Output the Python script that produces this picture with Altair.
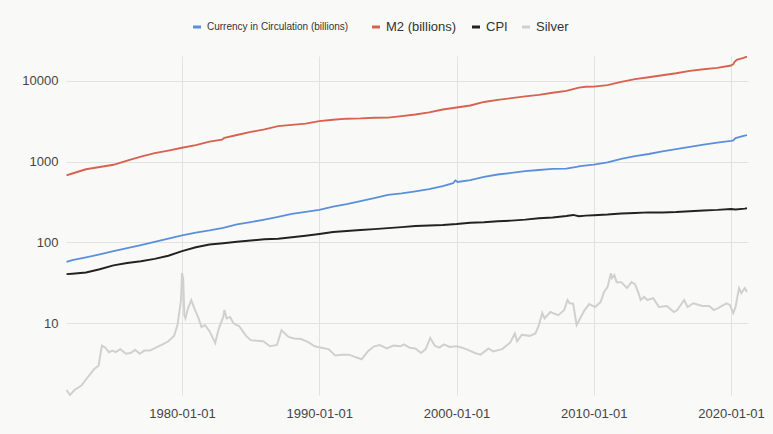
import altair as alt
import pandas as pd

# ---------------- data ----------------
cur_dates = ["1971-08", "1972-01", "1973-01", "1974-01", "1975-01", "1976-01", "1977-01", "1978-01",
             "1979-01", "1980-01", "1981-01", "1982-01", "1983-01", "1984-01", "1985-01", "1986-01",
             "1987-01", "1988-01", "1989-01", "1990-01", "1991-01", "1992-01", "1993-01", "1994-01",
             "1995-01", "1996-01", "1997-01", "1998-01", "1999-01", "1999-10", "1999-12", "2000-02",
             "2001-01", "2002-01", "2003-01", "2004-01", "2005-01", "2006-01", "2007-01", "2008-01",
             "2008-10", "2009-01", "2010-01", "2011-01", "2012-01", "2013-01", "2014-01", "2015-01",
             "2016-01", "2017-01", "2018-01", "2019-01", "2020-01", "2020-03", "2020-05", "2020-12",
             "2021-03"]
cur_values = [57.5, 60.5, 65.3, 71.0, 77.9, 85.0, 92.9, 101.8,
              111.9, 122.0, 132.3, 140.8, 151.8, 166.9, 178.6, 192.1,
              207.3, 225.3, 238.2, 253.4, 277.6, 297.7, 323.5, 354.4,
              387.9, 405.0, 428.9, 457.6, 496.8, 540, 585, 560,
              590, 649, 692, 724, 760, 787, 812, 817,
              860, 881, 917, 977, 1078, 1171, 1241, 1337,
              1424, 1517, 1624, 1716, 1797, 1830, 1950, 2075,
              2130]

m2_dates = ["1971-08", "1972-01", "1973-01", "1974-01", "1975-01", "1976-01", "1977-01", "1978-01",
            "1979-01", "1980-01", "1981-01", "1982-01", "1982-12", "1983-02", "1984-01", "1985-01",
            "1986-01", "1987-01", "1988-01", "1989-01", "1990-01", "1991-01", "1992-01", "1993-01",
            "1994-01", "1995-01", "1996-01", "1997-01", "1998-01", "1999-01", "2000-01", "2001-01",
            "2002-01", "2003-01", "2004-01", "2005-01", "2006-01", "2007-01", "2008-01", "2008-12",
            "2009-06", "2010-01", "2011-01", "2012-01", "2013-01", "2014-01", "2015-01", "2016-01",
            "2017-01", "2018-01", "2019-01", "2020-01", "2020-03", "2020-04", "2020-06", "2020-12",
            "2021-03"]
m2_values = [676, 712, 804, 856, 913, 1030, 1152, 1270,
             1366, 1481, 1601, 1766, 1870, 1966, 2130, 2324,
             2499, 2741, 2840, 2950, 3166, 3286, 3390, 3415,
             3480, 3493, 3640, 3824, 4057, 4400, 4665, 4940,
             5460, 5800, 6080, 6410, 6680, 7090, 7490, 8200,
             8420, 8460, 8810, 9660, 10440, 11030, 11690, 12360,
             13250, 13850, 14410, 15410, 16000, 17000, 18100, 19100,
             19900]

cpi_dates = ["1971-08", "1972-01", "1973-01", "1974-01", "1975-01", "1976-01", "1977-01", "1978-01",
             "1979-01", "1980-01", "1981-01", "1982-01", "1983-01", "1984-01", "1985-01", "1986-01",
             "1987-01", "1988-01", "1989-01", "1990-01", "1991-01", "1992-01", "1993-01", "1994-01",
             "1995-01", "1996-01", "1997-01", "1998-01", "1999-01", "2000-01", "2001-01", "2002-01",
             "2003-01", "2004-01", "2005-01", "2006-01", "2007-01", "2008-01", "2008-07", "2008-12",
             "2009-06", "2010-01", "2011-01", "2012-01", "2013-01", "2014-01", "2015-01", "2016-01",
             "2017-01", "2018-01", "2019-01", "2020-01", "2020-05", "2021-01", "2021-03"]
cpi_values = [40.6, 41.1, 42.6, 46.6, 52.1, 55.8, 58.7, 62.7,
              68.5, 78.0, 87.2, 94.4, 97.8, 101.9, 105.7, 109.6,
              111.4, 116.0, 121.2, 127.5, 134.7, 138.3, 142.8, 146.3,
              150.5, 154.7, 159.4, 161.8, 164.7, 169.3, 175.6, 177.7,
              182.6, 186.3, 191.6, 199.3, 203.4, 212.2, 219.0, 211.4,
              214.8, 217.5, 221.2, 227.8, 231.7, 235.3, 234.7, 237.7,
              243.6, 248.9, 252.6, 258.7, 255.9, 262.2, 264.9]

silver_dates = ["1971-08", "1971-11", "1972-03", "1972-09", "1973-03", "1973-08", "1973-12", "1974-02",
                "1974-03", "1974-06", "1974-09", "1974-12", "1975-03", "1975-07", "1975-12", "1976-04",
                "1976-08", "1976-12", "1977-04", "1977-09", "1978-02", "1978-08", "1979-01", "1979-06",
                "1979-09", "1979-12", "1980-01", "1980-02", "1980-03", "1980-04", "1980-06", "1980-09",
                "1980-12", "1981-03", "1981-06", "1981-09", "1982-01", "1982-06", "1982-09", "1983-01",
                "1983-02", "1983-04", "1983-07", "1983-10", "1984-03", "1984-06", "1984-09", "1985-01",
                "1985-06", "1985-12", "1986-06", "1986-12", "1987-04", "1987-07", "1987-10", "1988-03",
                "1988-09", "1989-03", "1989-09", "1990-03", "1990-09", "1991-03", "1991-09", "1992-03",
                "1992-09", "1993-02", "1993-08", "1994-01", "1994-06", "1994-12", "1995-06", "1995-12",
                "1996-03", "1996-08", "1997-01", "1997-06", "1997-10", "1998-02", "1998-06", "1998-10",
                "1999-02", "1999-07", "2000-01", "2000-06", "2000-11", "2001-05", "2001-10", "2002-05",
                "2002-09", "2003-05", "2003-12", "2004-04", "2004-06", "2004-10", "2005-05", "2005-10",
                "2006-01", "2006-04", "2006-06", "2006-11", "2007-06", "2007-11", "2008-02", "2008-04",
                "2008-07", "2008-10", "2009-01", "2009-05", "2009-09", "2010-02", "2010-07", "2010-10",
                "2011-01", "2011-04", "2011-05", "2011-07", "2011-09", "2012-01", "2012-06", "2012-10",
                "2013-01", "2013-04", "2013-06", "2013-09", "2013-12", "2014-05", "2014-10", "2015-05",
                "2015-11", "2016-02", "2016-08", "2016-11", "2017-04", "2017-12", "2018-06", "2018-10",
                "2019-02", "2019-09", "2019-12", "2020-03", "2020-05", "2020-08", "2020-10", "2021-01",
                "2021-03"]
silver_values = [1.5, 1.3, 1.5, 1.7, 2.2, 2.7, 3.0, 4.5,
                 5.3, 5.0, 4.4, 4.6, 4.4, 4.8, 4.2, 4.3,
                 4.7, 4.2, 4.6, 4.6, 5.0, 5.5, 6.0, 7.0,
                 9.5, 19.0, 42.0, 35.0, 12.6, 11.5, 15.0, 19.4,
                 15.0, 12.0, 9.0, 9.5, 8.0, 5.7, 8.5, 12.0,
                 14.6, 11.5, 12.0, 10.0, 9.2, 8.0, 7.0, 6.2,
                 6.1, 6.0, 5.2, 5.4, 8.2, 7.5, 6.8, 6.5,
                 6.4, 5.9, 5.2, 5.0, 4.8, 4.0, 4.1, 4.1,
                 3.8, 3.6, 4.6, 5.2, 5.4, 4.9, 5.3, 5.2,
                 5.5, 5.0, 4.9, 4.3, 4.8, 6.6, 5.3, 5.0,
                 5.5, 5.1, 5.2, 5.0, 4.7, 4.3, 4.1, 4.9,
                 4.5, 4.8, 5.8, 7.5, 6.0, 7.2, 7.0, 7.5,
                 9.5, 13.4, 11.5, 13.8, 12.6, 14.5, 19.4, 17.7,
                 17.5, 9.5, 11.5, 14.6, 17.3, 15.9, 18.3, 24.4,
                 28.0, 41.7, 36.2, 39.5, 32.3, 32.3, 27.3, 32.3,
                 30.5, 24.0, 19.4, 21.2, 19.4, 20.5, 15.9, 16.4,
                 13.8, 14.6, 19.4, 15.9, 17.7, 16.4, 16.4, 14.6,
                 15.5, 17.7, 16.9, 13.4, 16.0, 27.3, 23.6, 27.3,
                 24.4]

series_names = ["Currency in Circulation (billions)", "M2 (billions)", "CPI", "Silver"]
series_colors = ["#5b8fdb", "#d8614f", "#222222", "#d0d0d0"]
y_ticks = [10, 100, 1000, 10000]
x_tick_years = [1980, 1990, 2000, 2010, 2020]

# ---------------- table ----------------
rows = []
for name, dates, values in zip(series_names,
                               [cur_dates, m2_dates, cpi_dates, silver_dates],
                               [cur_values, m2_values, cpi_values, silver_values]):
    for d, v in zip(dates, values):
        rows.append({"series": name, "date": d + "-01", "value": v})
df = pd.DataFrame(rows)

color_scale = alt.Scale(domain=series_names, range=series_colors)
width_scale = alt.Scale(domain=series_names, range=[1.8, 2, 2.6, 1.5])

lines = alt.Chart(df).mark_line(interpolate="linear").encode(
    x=alt.X("date:T",
            scale=alt.Scale(type="utc", nice=False,
                            domain=[alt.DateTime(year=1971, month=7, date=18, utc=True),
                                    alt.DateTime(year=2021, month=3, date=28, utc=True)]),
            axis=alt.Axis(values=[alt.DateTime(year=y, month=1, date=1, utc=True) for y in x_tick_years],
                          labelExpr="utcFormat(datum.value, '%Y-%m-%d')",
                          title=None, domain=False, ticks=False,
                          labelFontSize=13, labelColor="#444444", labelPadding=12,
                          gridColor="#e2e2e2", labelFont="Liberation Sans")),
    y=alt.Y("value:Q",
            scale=alt.Scale(type="log", domain=[1.3, 20200], nice=False),
            axis=alt.Axis(values=y_ticks, format="d", title=None, domain=False, ticks=False,
                          labelFontSize=13, labelColor="#444444", labelPadding=8,
                          gridColor="#e2e2e2", labelFont="Liberation Sans")),
    color=alt.Color("series:N", scale=color_scale, legend=None),
    strokeWidth=alt.StrokeWidth("series:N", scale=width_scale, legend=None),
    order=alt.Order("date:T"),
)

# ---------------- manual legend ----------------
legend_font_sizes = [10, 13, 13, 13]
legend_x = [127, 306, 406, 456]
legend_layers = []
for name, col, fs, lx in zip(series_names, series_colors, legend_font_sizes, legend_x):
    one = pd.DataFrame({"label": [name]})
    legend_layers.append(
        alt.Chart(one).mark_rule(strokeWidth=3, color=col).encode(
            x=alt.value(lx), x2=alt.value(lx + 8), y=alt.value(-29))
    )
    legend_layers.append(
        alt.Chart(one).mark_text(align="left", baseline="middle", fontSize=fs,
                                 font="Liberation Sans", color="#333333").encode(
            x=alt.value(lx + 14), y=alt.value(-29), text="label:N")
    )

chart = alt.layer(lines, *legend_layers).properties(
    width=682, height=339,
    autosize=alt.AutoSizeParams(type="none"),
    padding={"left": 66, "top": 56, "right": 25, "bottom": 39},
    background="#f9faf8",
).configure_view(stroke=None)

chart.save("out.html", embed_options={"renderer": "svg", "actions": False})
